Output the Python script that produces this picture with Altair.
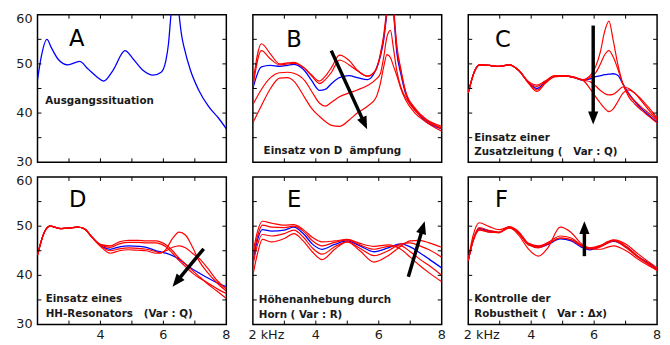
import math
import altair as alt
import pandas as pd

# ---------------- data ----------------
X_TICKS = [3, 4, 5, 6, 7]
Y_TICKS = [35, 40, 45, 50, 55]
Y_LABELS = [30, 40, 50, 60]
X_LABELS = [4, 6, 8]
X_START_LABEL = "2 kHz"

A_FREQ = [2.0, 2.12, 2.3, 2.44, 2.65, 2.96, 3.34, 3.6, 3.9, 4.1, 4.4, 4.78, 5.04, 5.35,
          5.67, 5.93, 6.08, 6.16, 6.24, 6.37, 6.5, 6.58, 6.66, 6.86, 7.12, 7.44, 7.75, 8.0]
A_BLUE = [46.8, 51.5, 55.0, 53.3, 51.0, 49.8, 50.5, 49.0, 47.3, 46.5, 48.7, 52.7, 51.0, 48.7,
          47.7, 48.3, 50.7, 54.0, 60.0, 70.0, 60.0, 55.8, 53.3, 48.7, 44.7, 41.3, 39.0, 36.8]

B_FREQ = [2.0, 2.27, 2.56, 2.85, 3.1, 3.3, 3.66, 3.86, 4.12, 4.3, 4.5, 4.75, 5.06, 5.32,
          5.64, 5.9, 6.05, 6.16, 6.26, 6.37, 6.47, 6.57, 6.7, 6.85, 7.15, 7.5, 8.0]
B_RED1 = [46.0, 54.1, 52.0, 50.0, 50.2, 50.3, 49.0, 47.8, 46.5, 47.5, 49.3, 51.8, 50.7, 48.7,
          47.5, 48.7, 52.0, 56.0, 62.0, 72.0, 62.0, 54.0, 49.0, 44.5, 41.0, 38.8, 37.3]
B_RED2 = [45.3, 52.7, 51.0, 49.8, 50.0, 50.1, 49.0, 47.6, 46.0, 46.8, 48.3, 50.8, 49.8, 48.6,
          47.5, 48.7, 51.8, 55.5, 61.0, 70.0, 61.0, 53.5, 48.7, 44.3, 40.8, 38.6, 37.0]
B_BLUE = [45.0, 49.4, 49.7, 49.5, 49.7, 49.9, 48.5, 46.7, 44.6, 44.8, 46.0, 47.2, 47.6, 47.2,
          46.8, 48.7, 51.5, 55.0, 60.5, 67.0, 60.5, 52.5, 48.0, 44.0, 40.7, 38.3, 36.8]
B_RED3 = [41.7, 44.8, 47.2, 48.2, 48.3, 48.1, 46.5, 44.5, 42.0, 41.4, 42.2, 43.3, 44.1, 44.7,
          45.6, 46.8, 48.0, 51.5, 55.5, 56.8, 53.0, 48.7, 45.3, 43.2, 40.5, 38.6, 36.8]
B_RED4 = [38.0, 41.5, 45.0, 47.1, 47.2, 46.5, 43.0, 41.0, 39.3, 38.3, 37.5, 37.3, 38.6, 40.0,
          41.4, 43.0, 46.0, 49.5, 51.9, 51.3, 49.5, 47.7, 45.0, 42.7, 40.0, 38.2, 36.3]

C_FREQ = [2.0, 2.2, 2.35, 2.67, 2.98, 3.3, 3.6, 3.92, 4.18, 4.44, 4.75, 5.06, 5.38, 5.64,
          5.9, 6.05, 6.2, 6.33, 6.47, 6.6, 6.75, 6.91, 7.1, 7.3, 7.5, 7.75, 8.0]
C_RED1 = [44.1, 48.5, 49.8, 49.7, 49.5, 49.8, 48.7, 46.4, 45.7, 46.5, 47.6, 47.6, 47.3, 46.8,
          47.8, 49.5, 52.5, 56.5, 58.7, 55.0, 50.0, 46.0, 43.3, 41.8, 40.6, 39.3, 38.0]
C_RED2 = [44.1, 48.5, 49.8, 49.7, 49.5, 49.8, 48.7, 46.3, 45.4, 46.4, 47.5, 47.5, 47.2, 46.7,
          47.4, 48.2, 50.0, 51.8, 52.7, 51.5, 49.0, 46.0, 43.8, 42.4, 41.2, 39.9, 38.5]
C_BLUE = [44.1, 48.5, 49.8, 49.7, 49.5, 49.8, 48.7, 46.2, 45.0, 46.2, 47.5, 47.5, 47.2, 46.7,
          47.0, 47.4, 47.6, 47.8, 47.9, 48.0, 47.7, 46.0, 44.0, 42.3, 40.9, 39.5, 38.1]
C_RED3 = [44.1, 48.5, 49.8, 49.7, 49.5, 49.8, 48.7, 46.1, 44.7, 46.1, 47.4, 47.5, 47.2, 46.7,
          46.3, 45.5, 44.6, 44.0, 43.7, 43.8, 44.5, 45.3, 45.0, 44.0, 42.5, 40.5, 38.8]
C_RED4 = [44.1, 48.5, 49.8, 49.7, 49.5, 49.8, 48.7, 46.0, 44.4, 46.0, 47.4, 47.5, 47.2, 46.7,
          44.7, 43.3, 42.0, 41.0, 40.3, 40.8, 42.3, 44.0, 44.7, 44.0, 42.8, 41.0, 39.0]

D_FREQ = [2.0, 2.2, 2.39, 2.75, 3.0, 3.27, 3.48, 3.74, 4.0, 4.31, 4.6, 4.9, 5.2, 5.46,
          5.77, 5.9, 6.08, 6.29, 6.5, 6.7, 6.92, 7.13, 7.4, 7.7, 8.0]
D_RED1 = [44.1, 48.5, 50.0, 49.5, 49.6, 49.8, 49.5, 47.7, 46.3, 46.0, 46.8, 47.1, 47.1, 47.0,
          47.0, 46.8, 46.2, 45.0, 43.5, 42.3, 41.0, 39.8, 38.3, 36.8, 35.3]
D_RED2 = [44.1, 48.5, 50.0, 49.5, 49.6, 49.8, 49.5, 47.7, 46.2, 45.7, 46.4, 46.7, 46.7, 46.6,
          46.6, 46.4, 45.8, 44.5, 43.0, 41.8, 40.5, 39.5, 38.5, 37.3, 36.3]
D_BLUE = [44.1, 48.5, 50.0, 49.5, 49.6, 49.8, 49.5, 47.7, 46.1, 45.3, 45.8, 46.0, 45.9, 45.7,
          45.0, 44.8, 44.5, 44.0, 43.3, 42.3, 41.3, 40.5, 39.5, 38.5, 37.7]
D_RED3 = [44.1, 48.5, 50.0, 49.5, 49.6, 49.8, 49.5, 47.7, 46.0, 45.0, 45.4, 45.6, 45.5, 45.3,
          44.8, 44.6, 45.0, 45.7, 46.0, 45.6, 44.5, 43.5, 41.5, 39.0, 37.2]
D_RED4 = [44.1, 48.5, 50.0, 49.5, 49.6, 49.8, 49.5, 47.7, 45.9, 44.5, 45.0, 45.2, 45.1, 45.0,
          44.5, 44.5, 45.3, 47.5, 48.8, 48.2, 45.8, 43.0, 40.6, 38.5, 36.8]

E_FREQ = [2.0, 2.15, 2.3, 2.6, 3.0, 3.3, 3.6, 3.9, 4.2, 4.6, 5.0, 5.4, 5.85, 6.3, 6.7,
          7.0, 7.3, 7.6, 8.0]
E_RED1 = [44.5, 49.0, 51.0, 50.6, 50.2, 50.3, 49.3, 47.7, 46.8, 47.0, 47.3, 46.5, 45.9, 46.2,
          45.3, 43.7, 42.0, 40.5, 38.7]
E_RED2 = [43.5, 48.0, 50.2, 49.8, 49.7, 50.0, 49.0, 47.0, 46.0, 46.7, 47.2, 46.2, 45.3, 45.9,
          46.0, 44.8, 43.3, 42.0, 40.0]
E_BLUE = [43.0, 47.3, 49.3, 49.0, 49.2, 49.8, 48.5, 46.3, 45.3, 46.3, 47.0, 46.0, 44.8, 45.6,
          46.4, 45.8, 44.6, 43.3, 41.5]
E_RED3 = [42.0, 46.3, 48.3, 48.0, 48.5, 49.2, 47.8, 45.5, 44.3, 45.8, 46.8, 45.5, 44.0, 45.0,
          46.4, 46.6, 46.0, 45.2, 43.7]
E_RED4 = [40.0, 44.5, 47.3, 46.8, 47.5, 48.5, 47.0, 44.7, 43.2, 45.3, 46.8, 45.0, 42.7, 44.0,
          45.9, 47.0, 47.1, 46.6, 45.7]

F_FREQ = [2.0, 2.15, 2.35, 2.67, 2.98, 3.3, 3.6, 3.92, 4.23, 4.54, 4.92, 5.27, 5.58, 5.86,
          6.2, 6.45, 6.62, 7.04, 7.35, 7.67, 8.0]
F_BLUE = [43.0, 47.0, 49.5, 49.0, 48.7, 49.8, 48.7, 46.3, 45.7, 46.3, 47.4, 47.0, 45.8, 45.2,
          45.9, 46.7, 46.9, 45.7, 44.0, 42.7, 41.3]
F_RED1 = [43.0, 47.1, 49.7, 49.1, 48.8, 49.7, 48.5, 46.2, 45.6, 46.4, 47.6, 47.2, 46.0, 45.4,
          46.0, 46.8, 47.1, 45.8, 44.1, 42.6, 41.2]
F_RED2 = [43.0, 47.0, 49.3, 48.8, 48.7, 49.6, 48.6, 46.2, 45.9, 46.7, 48.0, 47.6, 46.2, 45.4,
          45.8, 46.6, 47.0, 45.5, 43.9, 42.5, 41.0]
F_RED3 = [43.2, 48.0, 50.7, 49.9, 49.3, 49.8, 48.2, 45.3, 43.9, 45.7, 49.8, 48.7, 46.5, 45.5,
          45.3, 45.8, 46.0, 44.9, 43.5, 42.2, 41.0]
F_RED4 = [43.0, 46.8, 49.2, 48.8, 48.7, 49.9, 48.9, 46.5, 46.0, 46.5, 47.6, 47.3, 46.2, 45.6,
          46.1, 46.9, 47.2, 46.2, 44.6, 43.0, 41.5]

# ---------------- annotations ----------------
LETTERS = {"A": (3.25, 55.0), "B": (3.31, 54.8), "C": (3.1, 54.8),
           "D": (3.28, 55.4), "E": (3.31, 55.2), "F": (3.06, 55.3)}
NOTES = {
    "A": [("Ausgangssituation", 2.25, 41.8)],
    "B": [("Einsatz von D  ämpfung", 2.34, 31.6)],
    "C": [("Einsatz einer", 2.19, 34.4), ("Zusatzleitung (   Var : Q)", 2.19, 31.4)],
    "D": [("Einsatz eines", 2.26, 34.6), ("HH-Resonators   (Var : Q)", 2.26, 31.6)],
    "E": [("Höhenanhebung durch", 2.19, 34.4), ("Horn ( Var : R)", 2.19, 31.4)],
    "F": [("Kontrolle der", 2.19, 34.6), ("Robustheit (   Var : Δx)", 2.19, 31.6)],
}
ARROWS = {
    "B": ((4.49, 52.7), (5.63, 36.7)),
    "C": ((5.97, 57.8), (5.97, 37.7)),
    "D": ((7.28, 45.4), (6.29, 37.7)),
    "E": ((6.94, 39.7), (7.46, 51.0)),
    "F": ((5.69, 43.9), (5.69, 51.0)),
}

# ---------------- style ----------------
BLUE = "#0000ff"
RED = "#ff0000"
FONT = "DejaVu Sans"
TXT = "#1a1a1a"
W, H = 192, 150
TICK = 4
X0, X1, Y0, Y1 = 2, 8, 30, 60

XS = alt.Scale(domain=[X0, X1], nice=False, zero=False)
YS = alt.Scale(domain=[Y0, Y1], nice=False, zero=False)


def ex():
    return alt.X("f:Q", scale=XS, axis=None)


def ey():
    return alt.Y("db:Q", scale=YS, axis=None)


def curves_df(freq, series):
    rows = []
    for name, vals in series:
        for f, v in zip(freq, vals):
            rows.append({"f": f, "db": v, "curve": name})
    return pd.DataFrame(rows)


def nb(s):
    return s.replace(" ", "\u00a0")


def panel(key, freq, blue, reds, ylab=False, xlab=None):
    layers = []
    layers.append(
        alt.Chart(curves_df(freq, [("blue", blue)]))
        .mark_line(clip=True, color=BLUE, strokeWidth=1.3, interpolate="monotone")
        .encode(x=ex(), y=ey(), detail="curve:N")
    )
    if reds:
        layers.append(
            alt.Chart(curves_df(freq, [(f"r{i}", r) for i, r in enumerate(reds)]))
            .mark_line(clip=True, color=RED, strokeWidth=1.2, interpolate="monotone")
            .encode(x=ex(), y=ey(), detail="curve:N")
        )
    tx = pd.DataFrame({"f": X_TICKS})
    ty = pd.DataFrame({"db": Y_TICKS})
    layers += [
        alt.Chart(tx).mark_rule(color="black", strokeWidth=1).encode(x=ex(), y=alt.value(0), y2=alt.value(TICK)),
        alt.Chart(tx).mark_rule(color="black", strokeWidth=1).encode(x=ex(), y=alt.value(H), y2=alt.value(H - TICK)),
        alt.Chart(ty).mark_rule(color="black", strokeWidth=1).encode(y=ey(), x=alt.value(0), x2=alt.value(TICK)),
        alt.Chart(ty).mark_rule(color="black", strokeWidth=1).encode(y=ey(), x=alt.value(W), x2=alt.value(W - TICK)),
    ]
    lx, ly = LETTERS[key]
    layers.append(
        alt.Chart(pd.DataFrame({"f": [lx], "db": [ly], "t": [key]}))
        .mark_text(font=FONT, fontSize=23, align="center", baseline="middle", color="black")
        .encode(x=ex(), y=ey(), text="t:N")
    )
    notes = NOTES[key]
    layers.append(
        alt.Chart(pd.DataFrame({"f": [n[1] for n in notes], "db": [n[2] for n in notes],
                                "t": [nb(n[0]) for n in notes]}))
        .mark_text(font=FONT, fontSize=10.5, fontWeight="bold", align="left",
                   baseline="alphabetic", color=TXT)
        .encode(x=ex(), y=ey(), text="t:N")
    )
    if key in ARROWS:
        (xa, ya), (xb, yb) = ARROWS[key]
        kx, ky = W / (X1 - X0), H / (Y1 - Y0)
        dxp, dyp = (xb - xa) * kx, -(yb - ya) * ky
        L = math.hypot(dxp, dyp)
        ux, uy = dxp / L, dyp / L

        def back(px):
            return xb - ux * px / kx, yb + uy * px / ky

        ex_, ey_ = back(8)
        hx, hy = back(6.5)
        ang = math.degrees(math.atan2(ux, -uy)) % 360
        layers.append(
            alt.Chart(pd.DataFrame({"f": [xa, ex_], "db": [ya, ey_], "o": [0, 1]}))
            .mark_line(color="black", strokeWidth=3.5, strokeCap="butt")
            .encode(x=ex(), y=ey(), order="o:Q")
        )
        layers.append(
            alt.Chart(pd.DataFrame({"f": [hx], "db": [hy]}))
            .mark_point(shape="M0,-1L0.8,1L-0.8,1Z", size=169, filled=True, color="black",
                        opacity=1, angle=ang)
            .encode(x=ex(), y=ey())
        )
    if ylab:
        ydf = pd.DataFrame({"db": Y_LABELS, "t": [str(v) for v in Y_LABELS]})
        layers.append(
            alt.Chart(ydf).transform_filter(alt.datum.db < Y1)
            .mark_text(font=FONT, fontSize=13, align="right", baseline="middle", dx=-5, color=TXT)
            .encode(x=alt.value(0), y=ey(), text="t:N")
        )
        layers.append(
            alt.Chart(ydf).transform_filter(alt.datum.db >= Y1)
            .mark_text(font=FONT, fontSize=13, align="right", baseline="middle", dx=-5, dy=4.5, color=TXT)
            .encode(x=alt.value(0), y=ey(), text="t:N")
        )
    if xlab:
        xdf = pd.DataFrame({"f": X_LABELS, "t": [str(v) for v in X_LABELS]})
        layers.append(
            alt.Chart(xdf)
            .mark_text(font=FONT, fontSize=13, align="center", baseline="middle", color=TXT)
            .encode(x=ex(), y=alt.value(H + 11), text="t:N")
        )
        if xlab == "khz":
            layers.append(
                alt.Chart(pd.DataFrame({"f": [X0], "t": [X_START_LABEL]}))
                .mark_text(font=FONT, fontSize=13, align="left", baseline="middle", dx=-4.5, color=TXT)
                .encode(x=ex(), y=alt.value(H + 11), text="t:N")
            )
    return alt.layer(*layers).properties(width=W, height=H)


pA = panel("A", A_FREQ, A_BLUE, [], ylab=True)
pB = panel("B", B_FREQ, B_BLUE, [B_RED1, B_RED2, B_RED3, B_RED4])
pC = panel("C", C_FREQ, C_BLUE, [C_RED1, C_RED2, C_RED3, C_RED4])
pD = panel("D", D_FREQ, D_BLUE, [D_RED1, D_RED2, D_RED3, D_RED4], ylab=True, xlab="num")
pE = panel("E", E_FREQ, E_BLUE, [E_RED1, E_RED2, E_RED3, E_RED4], xlab="khz")
pF = panel("F", F_FREQ, F_BLUE, [F_RED1, F_RED2, F_RED3, F_RED4], xlab="khz")

chart = (
    alt.concat(pA, pB, pC, pD, pE, pF, columns=3,
               spacing={"row": 15, "column": 27}, bounds="flush")
    .properties(padding={"left": 7, "top": 1, "right": 0, "bottom": 0}, background="white")
    .configure_view(stroke="black", strokeWidth=1.5)
)

chart.save("out.html", embed_options={"renderer": "svg", "actions": False})
